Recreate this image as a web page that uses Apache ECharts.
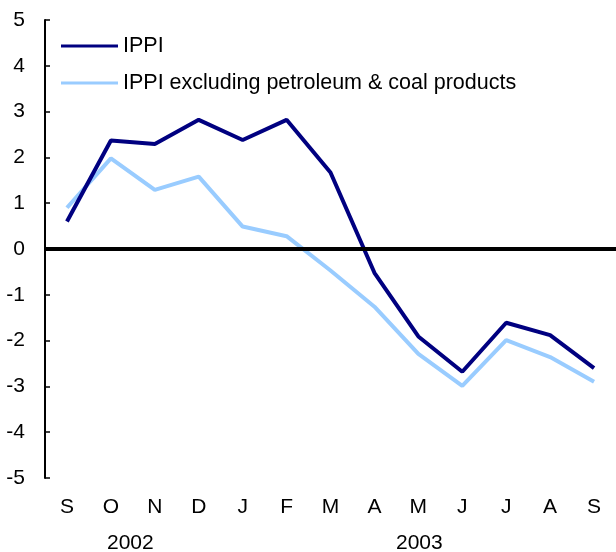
<!DOCTYPE html>
<html>
<head>
<meta charset="utf-8">
<script src="https://cdn.jsdelivr.net/npm/echarts@6/dist/echarts.min.js"></script>
<style>html,body{margin:0;padding:0;background:#fff}#c{width:616px;height:552px}</style>
</head>
<body>
<div id="c"></div>
<script>
var months = ['S','O','N','D','J','F','M','A','M','J','J','A','S'];
var ippi = [0.6, 2.37, 2.29, 2.82, 2.38, 2.82, 1.67, -0.52, -1.91, -2.68, -1.61, -1.88, -2.6];
var ippiExPetro = [0.9, 1.98, 1.29, 1.58, 0.49, 0.28, -0.47, -1.26, -2.29, -2.99, -1.99, -2.36, -2.9];
var yTicks = [-5, 5, 1];
var years = ['2002', '2003'];
var seriesNames = ['IPPI', 'IPPI excluding petroleum & coal products'];

var font = 'Liberation Sans, Arial, sans-serif';
var chart = echarts.init(document.getElementById('c'));
chart.setOption({
  animation: false,
  backgroundColor: '#fff',
  grid: {left: 45, right: 0, top: 20, bottom: 74},
  legend: {
    orient: 'vertical', left: 56, top: 30, itemGap: 15, padding: 5,
    itemWidth: 57, itemHeight: 3, icon: 'rect',
    textStyle: {fontFamily: font, fontSize: 21.5, color: '#000'},
    data: seriesNames
  },
  xAxis: {
    type: 'category', data: months, boundaryGap: true,
    axisLine: {lineStyle: {color: '#000', width: 2}},
    axisTick: {inside: true, length: 5, lineStyle: {color: '#000', width: 1.5}},
    axisLabel: {color: '#000', fontFamily: font, fontSize: 21, margin: 19}
  },
  yAxis: {
    type: 'value', min: yTicks[0], max: yTicks[1], interval: yTicks[2],
    axisLine: {show: true, lineStyle: {color: '#000', width: 2}},
    axisTick: {show: true, inside: true, length: 5, lineStyle: {color: '#000', width: 1.5}},
    splitLine: {show: false},
    axisLabel: {color: '#000', fontFamily: font, fontSize: 21, margin: 20}
  },
  series: [
    {
      name: seriesNames[0], type: 'line', data: ippi, symbol: 'none',
      lineStyle: {color: '#000080', width: 4}, itemStyle: {color: '#000080'},
      z: 3,
      markLine: {
        silent: true, symbol: 'none', label: {show: false},
        lineStyle: {color: '#000', width: 4, type: 'solid'},
        data: [{yAxis: 0}]
      }
    },
    {
      name: seriesNames[1], type: 'line', data: ippiExPetro, symbol: 'none',
      lineStyle: {color: '#99ccff', width: 4}, itemStyle: {color: '#99ccff'},
      z: 2
    }
  ],
  graphic: [
    {type: 'text', left: 107, top: 533, style: {text: years[0], font: '21px ' + font, fill: '#000'}},
    {type: 'text', left: 396, top: 533, style: {text: years[1], font: '21px ' + font, fill: '#000'}}
  ]
});
</script>
</body>
</html>
